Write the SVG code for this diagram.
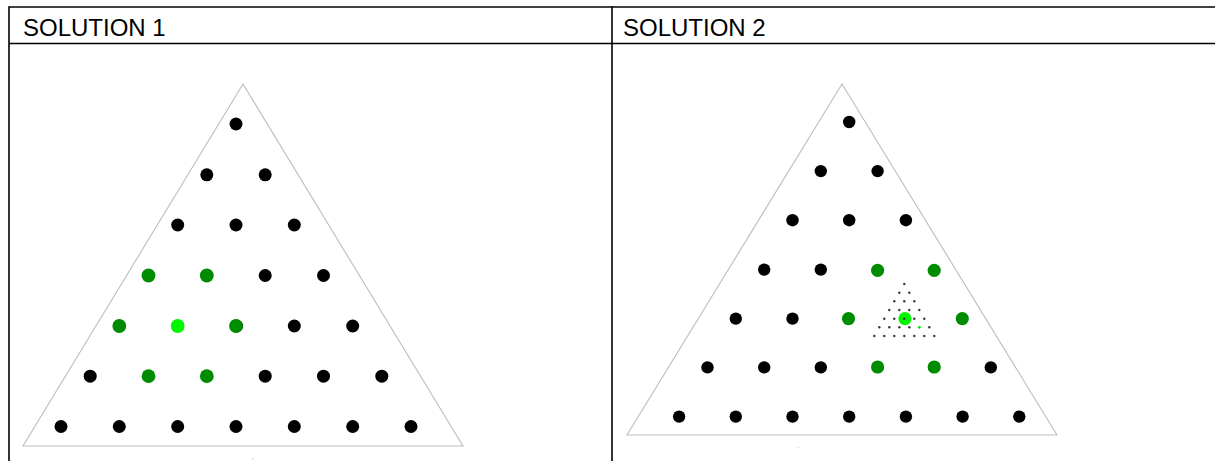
<svg xmlns="http://www.w3.org/2000/svg" width="1215" height="461" viewBox="0 0 1215 461">
<style>
.bd{stroke:#000;stroke-width:1.6;fill:none}
.hd{font-family:"Liberation Sans",Arial,sans-serif;font-size:24px;fill:#000}
.tri{fill:none;stroke:#bdbdbd;stroke-width:1.1}
.k{fill:#000}
.g{fill:#008c00}
.lg{fill:#00f500}
.m{fill:#3a3a3a}
.mg{fill:#00e600}
.spk{fill:#c8c8c8}
</style>
<g id="table">
<line class="bd" x1="9" y1="7" x2="1215" y2="7"/>
<line class="bd" x1="9" y1="43.5" x2="1215" y2="43.5"/>
<line class="bd" x1="9" y1="6.2" x2="9" y2="461"/>
<line class="bd" x1="612" y1="6.2" x2="612" y2="461"/>
<text class="hd" x="23" y="36">SOLUTION 1</text>
<text class="hd" x="623" y="36">SOLUTION 2</text>
</g>
<g id="solution1">
<polygon class="tri" points="243,84 23,446 463,446"/>
<g id="s1-dots">
<circle class="k" cx="236" cy="124" r="6.5"/>
<circle class="k" cx="206.8" cy="174.8" r="6.5"/>
<circle class="k" cx="265.2" cy="174.8" r="6.5"/>
<circle class="k" cx="177.7" cy="225" r="6.5"/>
<circle class="k" cx="236" cy="225" r="6.5"/>
<circle class="k" cx="294.3" cy="225" r="6.5"/>
<circle class="g" cx="148.5" cy="275.5" r="6.9"/>
<circle class="g" cx="206.8" cy="275.5" r="6.9"/>
<circle class="k" cx="265.2" cy="275.5" r="6.5"/>
<circle class="k" cx="323.5" cy="275.5" r="6.5"/>
<circle class="g" cx="119.3" cy="326" r="6.9"/>
<circle class="lg" cx="177.7" cy="326" r="6.9"/>
<circle class="k" cx="236.6" cy="326" r="6.5"/>
<circle class="g" cx="236" cy="326" r="6.9"/>
<circle class="k" cx="294.3" cy="326" r="6.5"/>
<circle class="k" cx="352.7" cy="326" r="6.5"/>
<circle class="k" cx="90.2" cy="376.2" r="6.5"/>
<circle class="g" cx="148.5" cy="376.2" r="6.9"/>
<circle class="g" cx="206.8" cy="376.2" r="6.9"/>
<circle class="k" cx="265.2" cy="376.2" r="6.5"/>
<circle class="k" cx="323.5" cy="376.2" r="6.5"/>
<circle class="k" cx="381.8" cy="376.2" r="6.5"/>
<circle class="k" cx="61" cy="426.5" r="6.5"/>
<circle class="k" cx="119.3" cy="426.5" r="6.5"/>
<circle class="k" cx="177.7" cy="426.5" r="6.5"/>
<circle class="k" cx="236" cy="426.5" r="6.5"/>
<circle class="k" cx="294.3" cy="426.5" r="6.5"/>
<circle class="k" cx="352.7" cy="426.5" r="6.5"/>
<circle class="k" cx="411" cy="426.5" r="6.5"/>
</g>
<rect class="spk" x="252.5" y="458" width="1" height="1.5"/>
</g>
<g id="solution2">
<polygon class="tri" points="842,84 627,435 1057,435"/>
<g id="s2-dots">
<circle class="k" cx="849.2" cy="122" r="6.2"/>
<circle class="k" cx="820.8" cy="171.1" r="6.2"/>
<circle class="k" cx="877.6" cy="171.1" r="6.2"/>
<circle class="k" cx="792.5" cy="220.2" r="6.2"/>
<circle class="k" cx="849.2" cy="220.2" r="6.2"/>
<circle class="k" cx="905.9" cy="220.2" r="6.2"/>
<circle class="k" cx="764.2" cy="269.6" r="6.2"/>
<circle class="k" cx="820.8" cy="269.6" r="6.2"/>
<circle class="g" cx="877.6" cy="270.3" r="6.6"/>
<circle class="g" cx="934.2" cy="270.3" r="6.6"/>
<circle class="k" cx="735.8" cy="318.6" r="6.2"/>
<circle class="k" cx="792.5" cy="318.6" r="6.2"/>
<circle class="g" cx="848.5" cy="318.6" r="6.6"/>
<circle class="lg" cx="905" cy="318.6" r="6.6"/>
<circle class="g" cx="962.3" cy="318.6" r="6.6"/>
<circle class="k" cx="707.5" cy="367.4" r="6.2"/>
<circle class="k" cx="764.2" cy="367.4" r="6.2"/>
<circle class="k" cx="820.8" cy="367.4" r="6.2"/>
<circle class="g" cx="877.6" cy="367" r="6.6"/>
<circle class="g" cx="934.2" cy="367" r="6.6"/>
<circle class="k" cx="990.8" cy="367.4" r="6.2"/>
<circle class="k" cx="679.1" cy="416.6" r="6.2"/>
<circle class="k" cx="735.8" cy="416.6" r="6.2"/>
<circle class="k" cx="792.5" cy="416.6" r="6.2"/>
<circle class="k" cx="849.2" cy="416.6" r="6.2"/>
<circle class="k" cx="905.9" cy="416.6" r="6.2"/>
<circle class="k" cx="962.6" cy="416.6" r="6.2"/>
<circle class="k" cx="1019.3" cy="416.6" r="6.2"/>
</g>
<g id="s2-mini">
<circle class="m" cx="904.3" cy="284" r="1.2"/>
<circle class="m" cx="899.3" cy="292.7" r="1.2"/>
<circle class="m" cx="909.3" cy="292.7" r="1.2"/>
<circle class="m" cx="894.3" cy="301.3" r="1.2"/>
<circle class="m" cx="904.3" cy="301.3" r="1.2"/>
<circle class="m" cx="914.3" cy="301.3" r="1.2"/>
<circle class="m" cx="889.3" cy="310" r="1.2"/>
<circle class="m" cx="899.3" cy="310" r="1.2"/>
<circle class="m" cx="909.3" cy="310" r="1.2"/>
<circle class="m" cx="919.3" cy="310" r="1.2"/>
<circle class="m" cx="884.3" cy="318.7" r="1.2"/>
<circle class="m" cx="894.3" cy="318.7" r="1.2"/>
<circle class="m" cx="904.3" cy="318.7" r="1.2"/>
<circle class="m" cx="914.3" cy="318.7" r="1.2"/>
<circle class="m" cx="924.3" cy="318.7" r="1.2"/>
<circle class="m" cx="879.3" cy="327.3" r="1.2"/>
<circle class="m" cx="889.3" cy="327.3" r="1.2"/>
<circle class="m" cx="899.3" cy="327.3" r="1.2"/>
<circle class="m" cx="909.3" cy="327.3" r="1.2"/>
<circle class="mg" cx="919.3" cy="327.3" r="1.4"/>
<circle class="m" cx="929.3" cy="327.3" r="1.2"/>
<circle class="m" cx="874.3" cy="336" r="1.2"/>
<circle class="m" cx="884.3" cy="336" r="1.2"/>
<circle class="m" cx="894.3" cy="336" r="1.2"/>
<circle class="m" cx="904.3" cy="336" r="1.2"/>
<circle class="m" cx="914.3" cy="336" r="1.2"/>
<circle class="m" cx="924.3" cy="336" r="1.2"/>
<circle class="m" cx="934.3" cy="336" r="1.2"/>
</g>
<rect class="spk" x="797.5" y="447" width="1" height="1.2"/>
</g>
</svg>
